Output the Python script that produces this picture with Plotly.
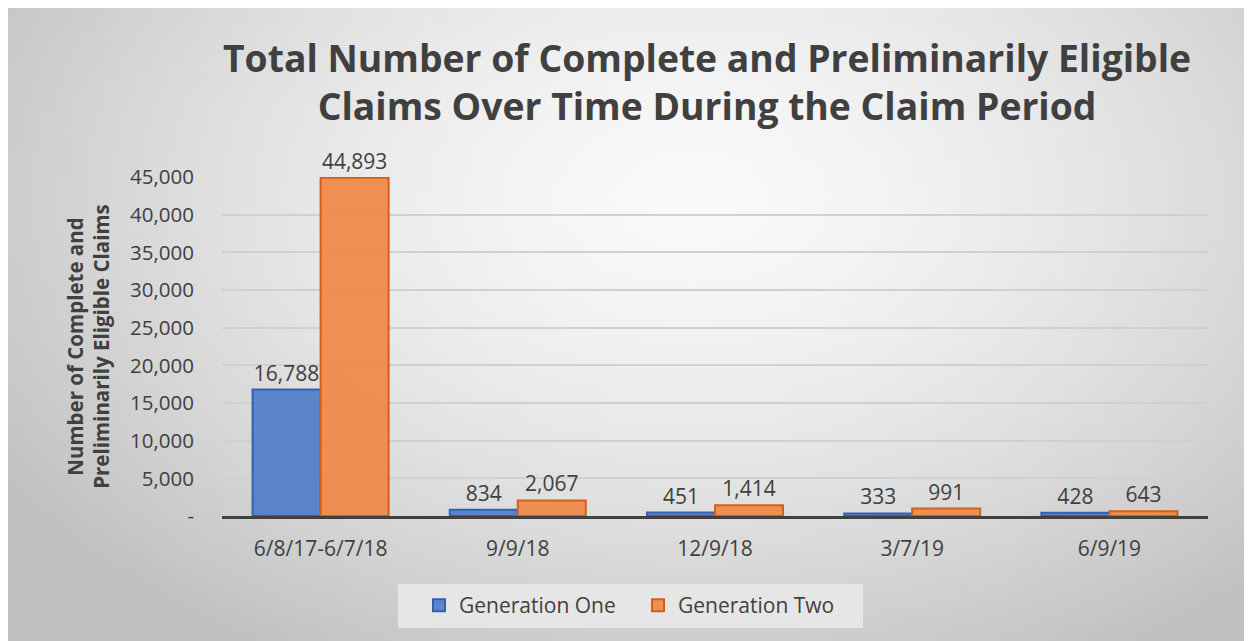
import base64, struct, zlib
import numpy as np
import plotly.graph_objects as go

categories = ["6/8/17-6/7/18", "9/9/18", "12/9/18", "3/7/19", "6/9/19"]
gen_one = [16788, 834, 451, 333, 428]
gen_two = [44893, 2067, 1414, 991, 643]
tick_vals = [0, 5000, 10000, 15000, 20000, 25000, 30000, 35000, 40000, 45000]
tick_text = ["-", "5,000", "10,000", "15,000", "20,000", "25,000", "30,000", "35,000", "40,000", "45,000"]

FONT = "Open Sans, sans-serif"
TXT = "#404040"

# figure is offset by the page's 8px body margin
W, H = 1244, 633
L, R, T, B = 214, 44, 169, 125
PW, PH = W - L - R, H - T - B


def gradient_png(w=128, h=64):
    ys, xs = np.mgrid[0:h, 0:w]
    xn = xs / (w - 1)
    yn = ys / (h - 1)
    d = np.sqrt(((xn - 0.55) / 0.62) ** 2 + ((yn - 0.3) / 0.8) ** 2)
    v = np.clip(250 - 52 * d ** 1.5, 192, 250).astype(np.uint8)
    raw = b"".join(b"\x00" + bytes(np.repeat(row, 3)) for row in v)

    def chunk(t, data):
        c = struct.pack(">I", len(data)) + t + data
        return c + struct.pack(">I", zlib.crc32(t + data) & 0xFFFFFFFF)

    png = b"\x89PNG\r\n\x1a\n" + chunk(b"IHDR", struct.pack(">IIBBBBB", w, h, 8, 2, 0, 0, 0))
    png += chunk(b"IDAT", zlib.compress(raw, 9)) + chunk(b"IEND", b"")
    return "data:image/png;base64," + base64.b64encode(png).decode()


def fmt(v):
    return f"{v:,}"


def px_x(p):  # page pixel -> paper x
    return (p - 8 - L) / PW


def px_y(p):  # page pixel -> paper y
    return (H - B - (p - 8)) / PH


fig = go.Figure()
fig.add_trace(go.Bar(
    name="Generation One", x=categories, y=gen_one,
    marker=dict(color="rgba(74,119,200,0.88)", line=dict(color="#3560b0", width=2)),
    text=[fmt(v) for v in gen_one], textposition="outside",
    textfont=dict(family=FONT, size=21, color=TXT),
    cliponaxis=False,
))
fig.add_trace(go.Bar(
    name="Generation Two", x=categories, y=gen_two,
    marker=dict(color="rgba(239,133,64,0.9)", line=dict(color="#d2621a", width=2)),
    text=[fmt(v) for v in gen_two], textposition="outside",
    textfont=dict(family=FONT, size=21, color=TXT),
    cliponaxis=False,
))

fig.update_layout(
    width=W, height=H,
    margin=dict(l=L, r=R, t=T, b=B),
    paper_bgcolor="#e4e4e4",
    plot_bgcolor="rgba(0,0,0,0)",
    barmode="group", bargap=0.31, bargroupgap=0,
    font=dict(family=FONT, color=TXT),
    legend=dict(
        orientation="h", x=px_x(419), xanchor="left", y=px_y(585), yanchor="top",
        bgcolor="rgba(0,0,0,0)", font=dict(family=FONT, size=21, color=TXT),
        itemwidth=30, entrywidth=174,
    ),
    annotations=[dict(
        text="Total Number of Complete and Preliminarily Eligible<br>Claims Over Time During the Claim Period",
        xref="paper", yref="paper", x=px_x(707), y=px_y(82),
        xanchor="center", yanchor="middle", showarrow=False,
        font=dict(family=FONT, size=37.3, color=TXT, weight="bold"),
    )],
    shapes=[dict(
        type="rect", xref="paper", yref="paper", layer="below",
        x0=px_x(398), x1=px_x(863), y0=px_y(628), y1=px_y(584),
        fillcolor="#e6e6e6", line=dict(width=0),
    )],
    images=[dict(
        source=gradient_png(), xref="paper", yref="paper",
        x=-L / PW, y=1 + T / PH, sizex=W / PW, sizey=H / PH,
        xanchor="left", yanchor="top", sizing="stretch", layer="below",
    )],
)
fig.update_xaxes(
    showline=True, linecolor="#404040", linewidth=3,
    tickfont=dict(family=FONT, size=21, color=TXT), ticks="", ticklabelstandoff=12,
)
fig.update_yaxes(
    range=[0, 45000], tickvals=tick_vals, ticktext=tick_text,
    tickfont=dict(family=FONT, size=20.5, color=TXT), ticklabelstandoff=27,
    showgrid=True, gridcolor="#d0d0d0", gridwidth=1.5, zeroline=False,
    title=dict(
        text="Number of Complete and<br>Preliminarily Eligible Claims",
        font=dict(family=FONT, size=20.5, color=TXT, weight="bold"), standoff=14,
    ),
)

fig.write_html("out.html")
